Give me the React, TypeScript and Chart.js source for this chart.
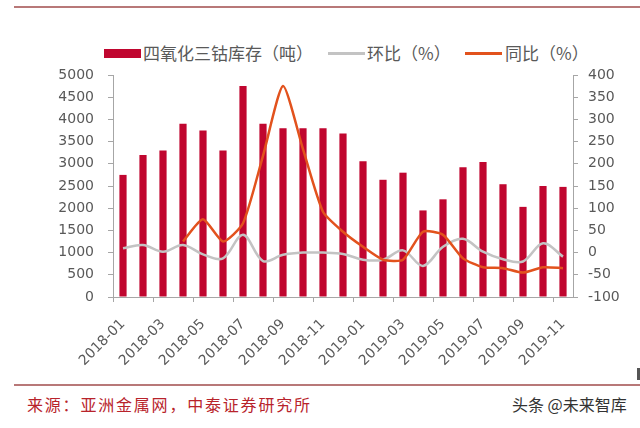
import React, { useEffect, useRef } from 'react';
import { Chart, registerables } from 'chart.js';

Chart.register(...registerables);

const categories = [
  '2018-01', '2018-02', '2018-03', '2018-04', '2018-05', '2018-06', '2018-07', '2018-08',
  '2018-09', '2018-10', '2018-11', '2018-12', '2019-01', '2019-02', '2019-03', '2019-04',
  '2019-05', '2019-06', '2019-07', '2019-08', '2019-09', '2019-10', '2019-11',
];
const inventory = [
  2750, 3200, 3300, 3900, 3750, 3300, 4750, 3900, 3800, 3800, 3800, 3680,
  3060, 2640, 2800, 1950, 2200, 2920, 3040, 2540, 2030, 2500, 2480,
];
const mom = [
  10, 17, 2, 17, -4, -13, 40, -19, -5, 0, 0, -3,
  -16, -16, 5, -30, 13, 31, 2, -15, -20, 21, -9,
];
const yoy = [
  null, null, null, 25, 75, 25, 66, 218, 375, 233, 92, 47,
  13, -16, -16, 47, 40, -13, -33, -35, -45, -33, -35,
];
const leftTicks = { min: 0, max: 5000, step: 500 };
const rightTicks = { min: -100, max: 400, step: 50 };
const seriesNames = ['四氧化三钴库存（吨）', '环比（%）', '同比（%）'];

const BAR = '#c0062f';
const GRAY = '#c3c3c3';
const ORANGE = '#e2521d';
const AXIS = '#a6a6a6';
const TEXT = '#595959';
const RULE = '#b87878';
const tickFont = { family: '"DejaVu Sans", "Liberation Sans", sans-serif', size: 14 };
const CJK = '"Noto Sans CJK SC", "Noto Sans", sans-serif';

export default function App() {
  const ref = useRef<HTMLCanvasElement>(null);

  useEffect(() => {
    if (!ref.current) return;
    const fixPad = (s: any) => {
      s.paddingTop = 8;
      s.paddingBottom = 8;
    };
    const chart = new Chart(ref.current, {
      type: 'bar',
      data: {
        labels: categories,
        datasets: [
          {
            type: 'bar',
            label: seriesNames[0],
            data: inventory,
            backgroundColor: BAR,
            yAxisID: 'y',
            order: 3,
            barPercentage: 0.36,
            categoryPercentage: 1,
          },
          {
            type: 'line',
            label: seriesNames[1],
            data: mom,
            borderColor: GRAY,
            borderWidth: 2.5,
            pointRadius: 0,
            tension: 0.35,
            yAxisID: 'y1',
            order: 2,
          },
          {
            type: 'line',
            label: seriesNames[2],
            data: yoy as any,
            borderColor: ORANGE,
            borderWidth: 2.5,
            pointRadius: 0,
            tension: 0.2,
            yAxisID: 'y1',
            order: 1,
          },
        ] as any,
      },
      options: {
        animation: false,
        responsive: false,
        devicePixelRatio: 1,
        layout: { padding: { top: 15, left: 0, right: 0, bottom: 0 } },
        plugins: { legend: { display: false }, tooltip: { enabled: false } },
        scales: {
          x: {
            offset: true,
            grid: {
              offset: true,
              drawOnChartArea: false,
              drawTicks: true,
              tickLength: 5,
              color: (c: any) => (c.index !== undefined && c.index % 2 === 0 ? AXIS : 'rgba(0,0,0,0)'),
            },
            border: { display: true, color: AXIS, width: 1 },
            ticks: {
              autoSkip: false,
              maxRotation: 45,
              minRotation: 45,
              padding: 14,
              color: TEXT,
              font: tickFont,
              callback: (_v: any, i: number) => (i % 2 === 0 ? categories[i] : ''),
            },
            afterFit: (s: any) => {
              s.height = 83;
            },
          },
          y: {
            position: 'left',
            min: leftTicks.min,
            max: leftTicks.max,
            ticks: {
              stepSize: leftTicks.step,
              padding: 14,
              color: TEXT,
              font: tickFont,
              callback: (v: any) => String(v),
            },
            grid: { drawOnChartArea: false, drawTicks: true, tickLength: 5, color: AXIS },
            border: { display: true, color: AXIS, width: 1 },
            afterFit: (s: any) => {
              s.width = 113;
              fixPad(s);
            },
          },
          y1: {
            position: 'right',
            min: rightTicks.min,
            max: rightTicks.max,
            ticks: {
              stepSize: rightTicks.step,
              padding: 10,
              color: TEXT,
              font: tickFont,
              callback: (v: any) => String(v),
            },
            grid: { drawOnChartArea: false, drawTicks: true, tickLength: 5, color: AXIS },
            border: { display: true, color: AXIS, width: 1 },
            afterFit: (s: any) => {
              s.width = 67;
              fixPad(s);
            },
          },
        },
      } as any,
    });
    return () => chart.destroy();
  }, []);

  const legendText: React.CSSProperties = {
    position: 'absolute',
    top: 42,
    fontFamily: CJK,
    fontSize: 17,
    lineHeight: '22px',
    color: TEXT,
    whiteSpace: 'nowrap',
  };

  return (
    <div
      style={{
        position: 'absolute',
        left: 0,
        top: 0,
        width: 640,
        height: 428,
        background: '#fff',
        overflow: 'hidden',
      }}
    >
      <div style={{ position: 'absolute', left: 14, top: 6, width: 626, height: 2, background: RULE }} />
      <div style={{ position: 'absolute', left: 104, top: 49, width: 37, height: 9, background: BAR }} />
      <div style={{ ...legendText, left: 143 }}>{seriesNames[0]}</div>
      <div style={{ position: 'absolute', left: 328, top: 52, width: 37, height: 2.5, background: GRAY }} />
      <div style={{ ...legendText, left: 367 }}>{seriesNames[1]}</div>
      <div style={{ position: 'absolute', left: 465, top: 52, width: 37, height: 2.5, background: ORANGE }} />
      <div style={{ ...legendText, left: 505 }}>{seriesNames[2]}</div>
      <canvas
        ref={ref}
        width={640}
        height={320}
        style={{ position: 'absolute', left: 0, top: 60, width: 640, height: 320 }}
      />
      <div style={{ position: 'absolute', left: 637, top: 368, width: 3, height: 12, background: '#555' }} />
      <div style={{ position: 'absolute', left: 14, top: 384, width: 626, height: 2, background: RULE }} />
      <div
        style={{
          position: 'absolute',
          left: 27,
          top: 394,
          fontFamily: CJK,
          fontSize: 16,
          letterSpacing: 1.8,
          lineHeight: '20px',
          color: '#b8232b',
          whiteSpace: 'nowrap',
        }}
      >
        来源：亚洲金属网，中泰证券研究所
      </div>
      <div
        style={{
          position: 'absolute',
          left: 512,
          top: 394,
          fontFamily: CJK,
          fontSize: 16,
          lineHeight: '20px',
          color: '#333',
          whiteSpace: 'nowrap',
        }}
      >
        头条 @未来智库
      </div>
    </div>
  );
}
